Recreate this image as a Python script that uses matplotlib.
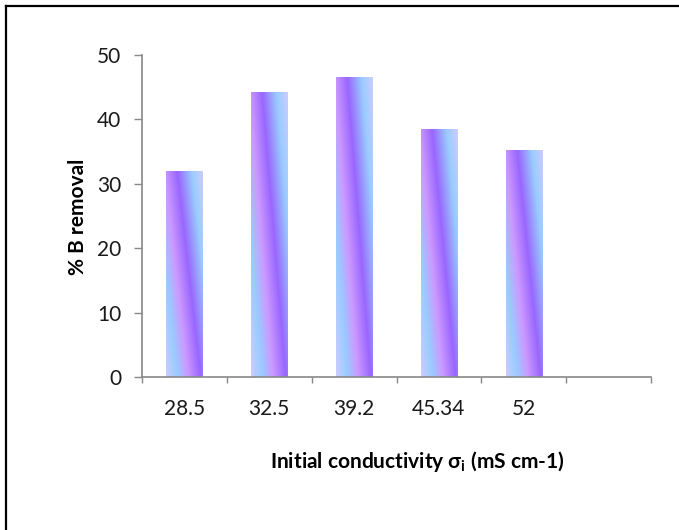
import numpy as np
import matplotlib
matplotlib.use("Agg")
import matplotlib.pyplot as plt
from matplotlib.colors import LinearSegmentedColormap
from matplotlib.lines import Line2D

categories = ["28.5", "32.5", "39.2", "45.34", "52"]
removal = [32.0, 44.2, 46.6, 38.5, 35.3]
y_ticks = [0, 10, 20, 30, 40, 50]
n_slots = 6

plt.rcParams['font.family'] = ['Lato', 'DejaVu Sans']

fig = plt.figure(figsize=(6.79, 5.30), dpi=100)
ax = fig.add_axes([142/679, 1-377/530, (651-142)/679, (377-55)/530])

# gradient colormap (diagonal stripes like the Excel fill)
stops_u = np.array([0.0, 0.3, 0.6, 0.95, 1.35, 1.65]) / 1.65
stop_cols = ["#ccccff", "#99ccff", "#cc99ff", "#9966ff", "#99ccff", "#ccccff"]
cmap = LinearSegmentedColormap.from_list("grad", list(zip(stops_u, stop_cols)))

x = np.arange(len(categories))
bw = 0.425
bars = ax.bar(x, removal, width=bw, facecolor="none", edgecolor="none")
for b in bars:
    x0, y0 = b.get_x(), b.get_y()
    w, h = b.get_width(), b.get_height()
    ny, nx = 300, 60
    xf = np.linspace(0, 1, nx)[None, :]
    yf = np.linspace(0, 1, ny)[:, None]
    u = (xf + 0.65 * yf) / 1.65
    im = ax.imshow(u, cmap=cmap, vmin=0, vmax=1, extent=(x0, x0 + w, y0, y0 + h),
                   origin="lower", aspect="auto", interpolation="bilinear", zorder=2)
    im.set_clip_path(b)

ax.set_xlim(-0.5, n_slots - 0.5)
ax.set_ylim(0, 50)
ax.set_yticks(y_ticks)
ax.set_xticks(x)
ax.set_xticklabels(categories)
ax.set_xticks(np.arange(n_slots + 1) - 0.5, minor=True)

for s in ["top", "right"]:
    ax.spines[s].set_visible(False)
for s in ["left", "bottom"]:
    ax.spines[s].set_color("#888888")
    ax.spines[s].set_linewidth(1.2)

ax.tick_params(axis="y", direction="out", length=6, width=1, color="#888888",
               labelsize=15, pad=9, labelcolor="#1a1a1a")
ax.tick_params(axis="x", which="major", length=0, labelsize=15, pad=16, labelcolor="#1a1a1a")
ax.tick_params(axis="x", which="minor", direction="out", length=4.5, width=1, color="#888888")

fig.text(78/679, 1-217/530, "% B removal", rotation=90, ha="center", va="center",
         fontsize=15, fontweight="bold")
fig.text(417/679, 1-461/530, r"Initial conductivity σ$_\mathregular{i}$ (mS cm-1)",
         ha="center", va="center", fontsize=15, fontweight="bold")

# chart-area border (left and top visible)
fig.add_artist(Line2D([6/679, 6/679], [0, 1-6/530], transform=fig.transFigure,
                      color="black", lw=1.6))
fig.add_artist(Line2D([6/679, 1], [1-6/530, 1-6/530], transform=fig.transFigure,
                      color="black", lw=1.6))

fig.savefig("out.png", dpi=100)
